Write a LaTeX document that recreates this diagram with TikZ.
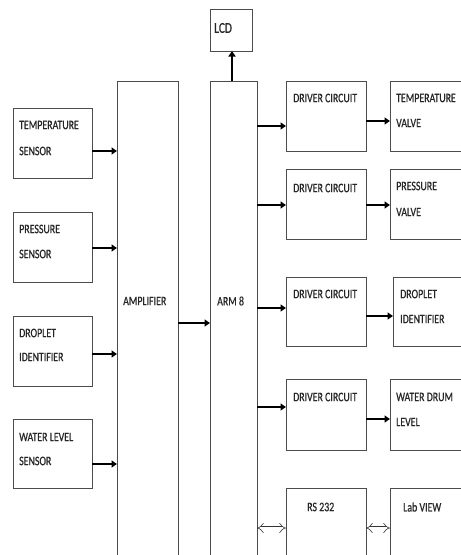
\documentclass[tikz,border=0pt]{standalone}
\usepackage{fontspec}
\newfontfamily\narrowfont[FakeStretch=0.76,FakeBold=0.6]{Carlito}
\usetikzlibrary{arrows.meta}
\begin{document}
\begin{tikzpicture}[x=1pt,y=-1pt,
  box/.style={draw=black!70, line width=0.9pt},
  txt/.style={anchor=west, inner sep=0pt, font=\narrowfont\fontsize{13}{15}\selectfont, text=black!85},
  arr/.style={line width=1.8pt, -{Triangle[length=5.5pt,width=7pt]}},
  dbl/.style={draw=black!80, double=white, double distance=3pt, line width=0.6pt, {Implies}-{Implies}}]
\useasboundingbox (0,0) rectangle (461,555);
\clip (0,0) rectangle (461,555);
% boxes
\draw[box] (210,9) rectangle (252,51);
\coordinate (lcdS) at (232,51);
\draw[box] (117,81) rectangle (178,600);
\draw[box] (210,81) rectangle (257,600);
\coordinate (ampE) at (178,0);
\coordinate (armW) at (210,0);
\coordinate (armE) at (257,0);
\coordinate (armN) at (232,81);
\draw[box] (13,108) rectangle (92,178);
\draw[box] (13,212) rectangle (92,282);
\draw[box] (13,316) rectangle (92,386);
\draw[box] (13,419) rectangle (92,488);
\coordinate (sensE) at (92,0);
\coordinate (ampW) at (117,0);
\draw[box] (286,81) rectangle (366,151);
\draw[box] (286,169) rectangle (366,239);
\draw[box] (286,277) rectangle (366,346);
\draw[box] (286,379) rectangle (366,450);
\draw[box] (286,488) rectangle (366,600);
\coordinate (drvW) at (286,0);
\coordinate (drvE) at (366,0);
\draw[box] (390,81) rectangle (475,151);
\draw[box] (390,169) rectangle (475,239);
\draw[box] (393,277) rectangle (475,346);
\draw[box] (390,379) rectangle (475,450);
\draw[box] (390,488) rectangle (475,600);
\coordinate (outW) at (390,0);
\coordinate (outW2) at (393,0);
% texts
\node[txt, font=\narrowfont\fontsize{15}{17}\selectfont] (tLCD) at (214,28) {LCD};
\node[txt] (tAMP) at (123,301) {AMPLIFIER};
\node[txt] (tARM) at (217,301) {ARM 8};
\node[txt] (tTS1) at (19,125) {TEMPERATURE};
\node[txt] (tTS2) at (19,151) {SENSOR};
\node[txt] (tPS1) at (19,229) {PRESSURE};
\node[txt] (tPS2) at (19,254) {SENSOR};
\node[txt] (tDL1) at (19,333) {DROPLET};
\node[txt] (tDL2) at (19,357) {IDENTIFIER};
\node[txt] (tWL1) at (19,437) {WATER LEVEL};
\node[txt] (tWL2) at (19,461) {SENSOR};
\node[txt] (tD1) at (293,98) {DRIVER CIRCUIT};
\node[txt] (tD2) at (293,188) {DRIVER CIRCUIT};
\node[txt] (tD3) at (293,294) {DRIVER CIRCUIT};
\node[txt] (tD4) at (293,397) {DRIVER CIRCUIT};
\node[txt] (tRS) at (307,507) {RS 232};
\node[txt] (tTV1) at (396,98) {TEMPERATURE};
\node[txt] (tTV2) at (396,123) {VALVE};
\node[txt] (tPV1) at (396,186) {PRESSURE};
\node[txt] (tPV2) at (396,212) {VALVE};
\node[txt] (tDR1) at (400,294) {DROPLET};
\node[txt] (tDR2) at (400,319) {IDENTIFIER};
\node[txt] (tWD1) at (396,397) {WATER DRUM};
\node[txt] (tWD2) at (396,422) {LEVEL};
\node[txt] (tLV) at (403,507) {Lab VIEW};
% connectors
\draw[arr] (sensE |- 0,151) -- (ampW |- 0,151);
\draw[arr] (sensE |- 0,248) -- (ampW |- 0,248);
\draw[arr, line width=2.6pt] (sensE |- 0,354) -- (ampW |- 0,354);
\draw[arr] (sensE |- 0,464) -- (ampW |- 0,464);
\draw[arr] (ampE |- 0,323) -- (armW |- 0,323);
\draw[arr] (armN) -- (lcdS);
\draw[arr] (armE |- 0,126) -- (drvW |- 0,126);
\draw[arr] (armE |- 0,205) -- (drvW |- 0,205);
\draw[arr] (armE |- 0,308) -- (drvW |- 0,308);
\draw[arr] (armE |- 0,407) -- (drvW |- 0,407);
\draw[arr] (drvE |- 0,121) -- (outW |- 0,121);
\draw[arr] (drvE |- 0,205) -- (outW |- 0,205);
\draw[arr] (drvE |- 0,316) -- (outW2 |- 0,316);
\draw[arr] (drvE |- 0,419) -- (outW |- 0,419);
\draw[dbl] (armE |- 0,528) -- (drvW |- 0,528);
\draw[dbl] (drvE |- 0,528) -- (outW |- 0,528);
\end{tikzpicture}
\end{document}
